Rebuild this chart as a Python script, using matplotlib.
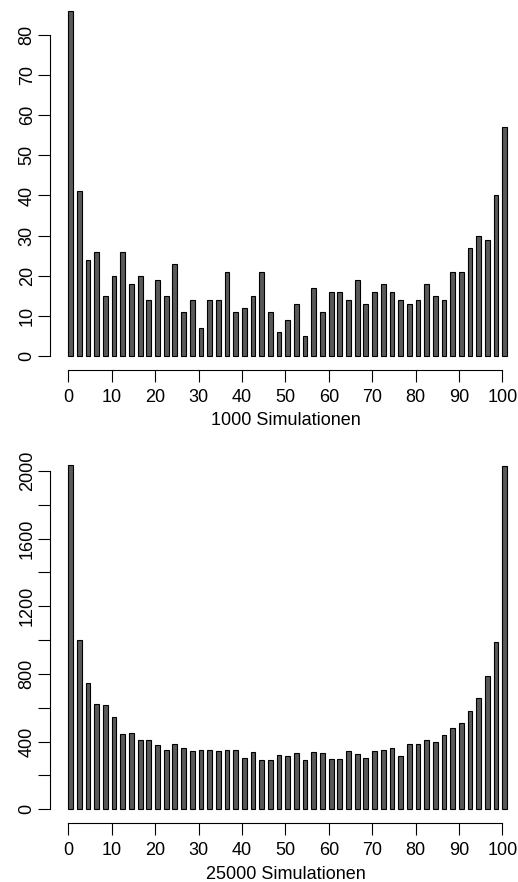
import numpy as np
import matplotlib.pyplot as plt

plt.rcParams['font.family'] = ['Liberation Sans', 'DejaVu Sans']
plt.rcParams['font.size'] = 13

# number of successes 0, 2, ..., 100
k = np.arange(0, 101, 2)

counts_1000 = [86, 41, 24, 26, 15, 20, 26, 18, 20, 14, 19, 15, 23, 11, 14, 7, 14,
               14, 21, 11, 12, 15, 21, 11, 6, 9, 13, 5, 17, 11, 16, 16, 14, 19,
               13, 16, 18, 16, 14, 13, 14, 18, 15, 14, 21, 21, 27, 30, 29, 40, 57]

counts_25000 = [2035, 1001, 745, 621, 615, 546, 443, 449, 408, 412, 380, 353, 384,
                363, 345, 353, 353, 343, 353, 353, 301, 339, 290, 290, 321, 313,
                335, 294, 337, 333, 300, 300, 343, 327, 303, 345, 349, 361, 313,
                388, 384, 408, 396, 437, 483, 508, 579, 658, 790, 991, 2030]

W, H = 518, 882
fig = plt.figure(figsize=(W / 100, H / 100), dpi=100)


def px_axes(left, right, top, bottom):
    return fig.add_axes([left / W, 1 - bottom / H, (right - left) / W, (bottom - top) / H])


def draw(ax, counts, ylim, yticks, ylabels, ymax_tick, xlab, label_base):
    ax.bar(k, counts, width=1.1, align='edge', color='#595959',
           edgecolor='black', linewidth=0.8)
    ax.set_xlim(-4.22, 103.6)
    ax.set_ylim(*ylim)
    ax.set_xticks(np.arange(0, 101, 10))
    ax.set_yticks(yticks)
    ax.set_yticklabels(ylabels)
    for s in ['top', 'right']:
        ax.spines[s].set_visible(False)
    ax.spines['bottom'].set_bounds(0, 100)
    ax.spines['left'].set_bounds(0, ymax_tick)
    ax.spines['bottom'].set_linewidth(0.8)
    ax.spines['left'].set_linewidth(0.8)
    ax.tick_params(axis='x', length=8.5, width=0.8, pad=5)
    ax.tick_params(axis='y', length=8.5, width=0.8, pad=1.8, labelrotation=90)
    for lbl in ax.get_yticklabels():
        lbl.set_va('center')
    fig.text(285.5 / W, 1 - label_base / H, xlab, ha='center', va='baseline')


ax1 = px_axes(50, 518, 0, 370)
draw(ax1, counts_1000, (-3.49, 88.72), np.arange(0, 81, 10),
     [str(v) for v in range(0, 81, 10)], 80, '1000 Simulationen', 424.6)

ax2 = px_axes(50, 518, 440, 823.3)
ticks2 = np.arange(0, 2001, 200)
draw(ax2, counts_25000, (-82.8, 2183), ticks2,
     [str(v) if v % 400 == 0 else '' for v in ticks2], 2000, '25000 Simulationen', 878.6)

fig.savefig('out.png', dpi=100)
